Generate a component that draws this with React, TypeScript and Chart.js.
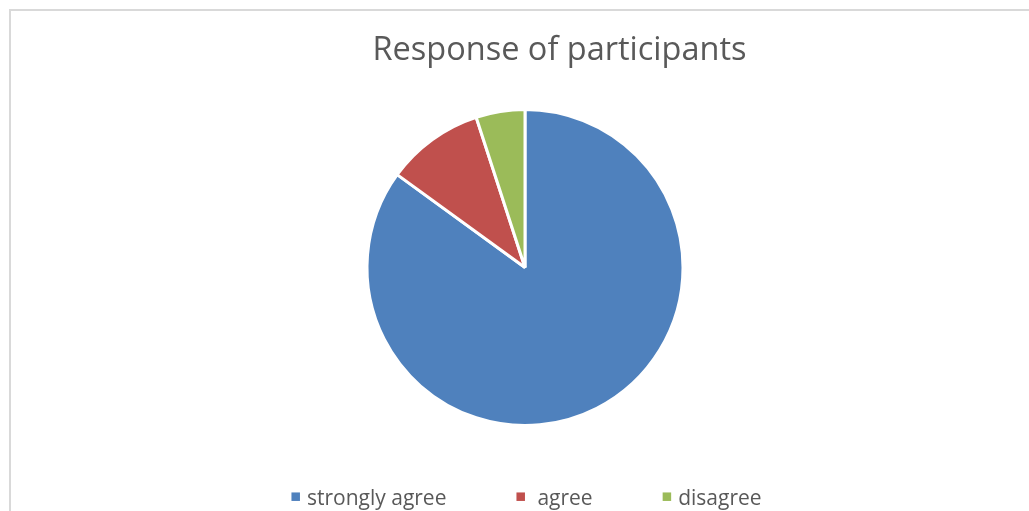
import React, { useEffect, useRef } from "react";
import { Chart, registerables } from "chart.js";

Chart.register(...registerables);

const titleText = "Response of participants";
const categories = ["strongly agree", "agree", "disagree"];
const legendLabels = ["strongly agree", " agree", "disagree"];
const values = [17, 2, 1];
const colors = ["#4F81BD", "#C0504D", "#9BBB59"];

const FONT = "'Open Sans', Lato, sans-serif";

const overlayPlugin = {
  id: "overlay",
  afterDraw(chart: any) {
    const ctx = chart.ctx as CanvasRenderingContext2D;
    ctx.save();
    // title
    ctx.fillStyle = "#595959";
    ctx.font = `32.5px ${FONT}`;
    ctx.textAlign = "center";
    ctx.textBaseline = "alphabetic";
    ctx.fillText(titleText, 559.5, 59.5);
    // legend
    ctx.font = `21px ${FONT}`;
    ctx.textAlign = "left";
    const box = 8.5;
    const boxGap = 7;
    const itemGap = 70;
    const widths = legendLabels.map((l) => box + boxGap + ctx.measureText(l).width);
    const total = widths.reduce((a, b) => a + b, 0) + itemGap * (widths.length - 1);
    let x = 526.5 - total / 2;
    const y = 496.7;
    legendLabels.forEach((l, i) => {
      ctx.fillStyle = colors[i];
      ctx.fillRect(x, y - box / 2, box, box);
      ctx.fillStyle = "#595959";
      ctx.fillText(l, x + box + boxGap, 505);
      x += widths[i] + itemGap;
    });
    ctx.restore();
  },
};

export default function App() {
  const ref = useRef<HTMLCanvasElement>(null);
  useEffect(() => {
    if (!ref.current) return;
    const chart = new Chart(ref.current, {
      type: "pie",
      data: {
        labels: categories,
        datasets: [
          {
            data: values,
            backgroundColor: colors,
            borderColor: "#FFFFFF",
            borderWidth: 3,
          },
        ],
      },
      options: {
        responsive: false,
        animation: false,
        layout: { padding: { top: 108, bottom: 84, left: 21, right: 0 } },
        plugins: {
          legend: { display: false },
          title: { display: false },
          tooltip: { enabled: false },
        },
      },
      plugins: [overlayPlugin],
    });
    return () => chart.destroy();
  }, []);
  return (
    <div style={{ position: "fixed", left: 0, top: 0, width: 1029, height: 511, background: "#fff", overflow: "hidden" }}>
      <div
        style={{
          position: "absolute",
          left: 9,
          top: 9,
          width: 1040,
          height: 540,
          borderLeft: "2px solid #D9D9D9",
          borderTop: "2px solid #D9D9D9",
        }}
      />
      <canvas ref={ref} width={1029} height={511} style={{ position: "absolute", left: 0, top: 0 }} />
    </div>
  );
}
